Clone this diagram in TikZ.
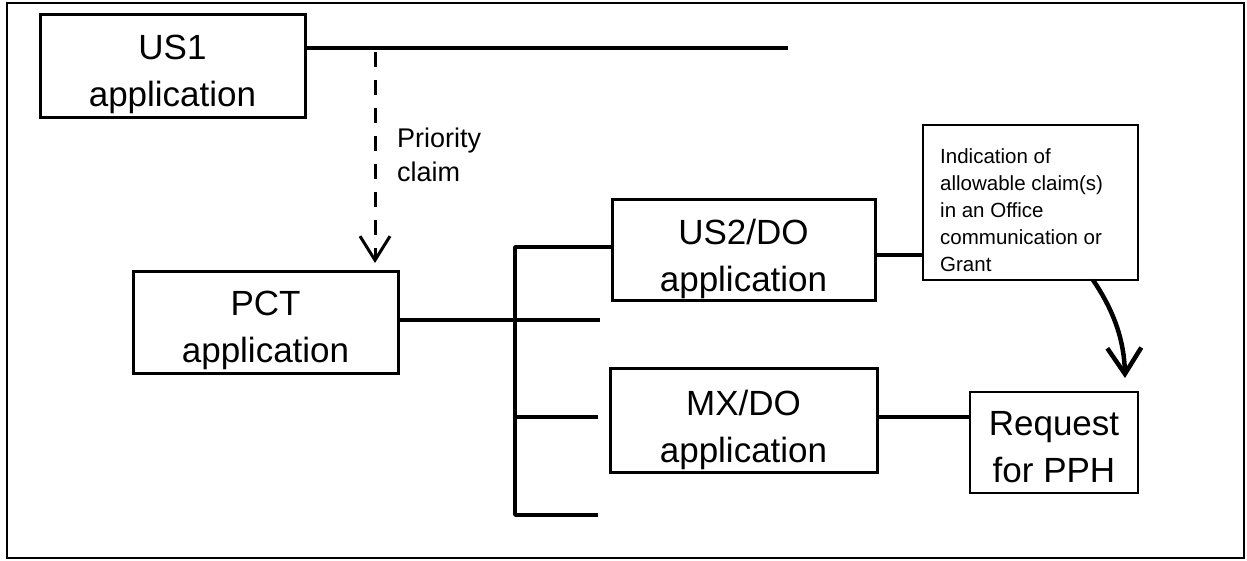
\documentclass[tikz,border=0pt]{standalone}
\usepackage{fontspec}
\setmainfont{Liberation Sans}
\usetikzlibrary{arrows.meta}
\begin{document}
\begin{tikzpicture}[x=1pt,y=-1pt,
  frame/.style={draw,line width=1.4pt},
  appbox/.style={draw,line width=3pt,inner sep=0pt,outer sep=0pt},
  notebox/.style={draw,line width=1.5pt,inner sep=0pt,outer sep=0pt},
  boxtext/.style={inner sep=0pt,align=center,anchor=base,
    font=\fontsize{35}{47}\selectfont},
  conn/.style={line width=3.5pt},
  vee/.style={-{Straight Barb[length=24pt,width=30pt]}},
  prio/.style={conn,line width=3pt,dash pattern=on 15pt off 13pt,vee},
  grant/.style={line width=4.5pt,-{Straight Barb[length=26pt,width=34pt]}}]
\useasboundingbox (0,0) rectangle (1247,561);
\draw[frame] (7,3) rectangle (1244,558);

% application boxes (text clipped at the frame, as printed);
% each text node sits on the baseline of its last line
\node[appbox,minimum width=265pt,minimum height=103pt] (us1) at (172.5,66.5) {};
\begin{scope}\clip (us1.south west) rectangle (us1.north east);
\node[boxtext] (us1t) at (172.5,107) {US1\\application};
\end{scope}

\node[appbox,minimum width=265pt,minimum height=101pt] (pct) at (265.5,322.5) {};
\begin{scope}\clip (pct.south west) rectangle (pct.north east);
\node[boxtext] (pctt) at (265.5,362) {PCT\\application};
\end{scope}

\node[appbox,minimum width=263pt,minimum height=100pt] (us2) at (743.5,250) {};
\begin{scope}\clip (us2.south west) rectangle (us2.north east);
\node[boxtext] (us2t) at (743.5,291) {US2/DO\\application};
\end{scope}

\node[appbox,minimum width=267pt,minimum height=104pt] (mx) at (743.5,420) {};
\begin{scope}\clip (mx.south west) rectangle (mx.north east);
\node[boxtext] (mxt) at (743.5,462) {MX/DO\\application};
\end{scope}

% note boxes
\node[notebox,minimum width=215pt,minimum height=155pt] (ind) at (1030.5,202.5) {};
\node[inner sep=0pt,anchor=base west,align=left,
  font=\fontsize{20.5}{27}\selectfont] (indt) at (940,272)
  {Indication of\\allowable claim(s)\\in an Office\\communication or\\Grant};

\node[notebox,minimum width=168pt,minimum height=101pt] (req) at (1054,442.5) {};
\node[boxtext] (reqt) at (1054,482) {Request\\for PPH};

% priority claim
\coordinate (us1end) at (788,48);
\draw[conn] (us1.east |- us1end) -- (us1end);
\coordinate (pstart) at (375,52);
\coordinate (pend) at (375,263);
\draw[prio] (pstart) -- (pend);
\node[inner sep=0pt,anchor=base west,align=left,
  font=\fontsize{27}{34}\selectfont] (prt) at (397,182) {Priority\\claim};

% national phase entries
\coordinate (bustop) at (515,247);
\coordinate (busbot) at (515,515);
\coordinate (b2) at (600,320);
\coordinate (b3) at (598,417);
\coordinate (b4) at (598,515);
\draw[conn] (pct.east |- b2) -- (b2);
\draw[conn,line join=round] (us2.west |- bustop) -- (bustop) -- (busbot) -- (b4);
\draw[conn] (bustop |- b3) -- (b3);

% links to notes
\draw[conn] (us2.east |- 0,255) -- (ind.west |- 0,255);
\draw[conn] (mx.east |- 0,417) -- (req.west |- 0,417);
\coordinate (gstart) at (1093,280);
\coordinate (gend) at (1125,378);
\draw[grant] (gstart) .. controls (1110,305) and (1124,335) .. (gend);
\end{tikzpicture}
\end{document}
